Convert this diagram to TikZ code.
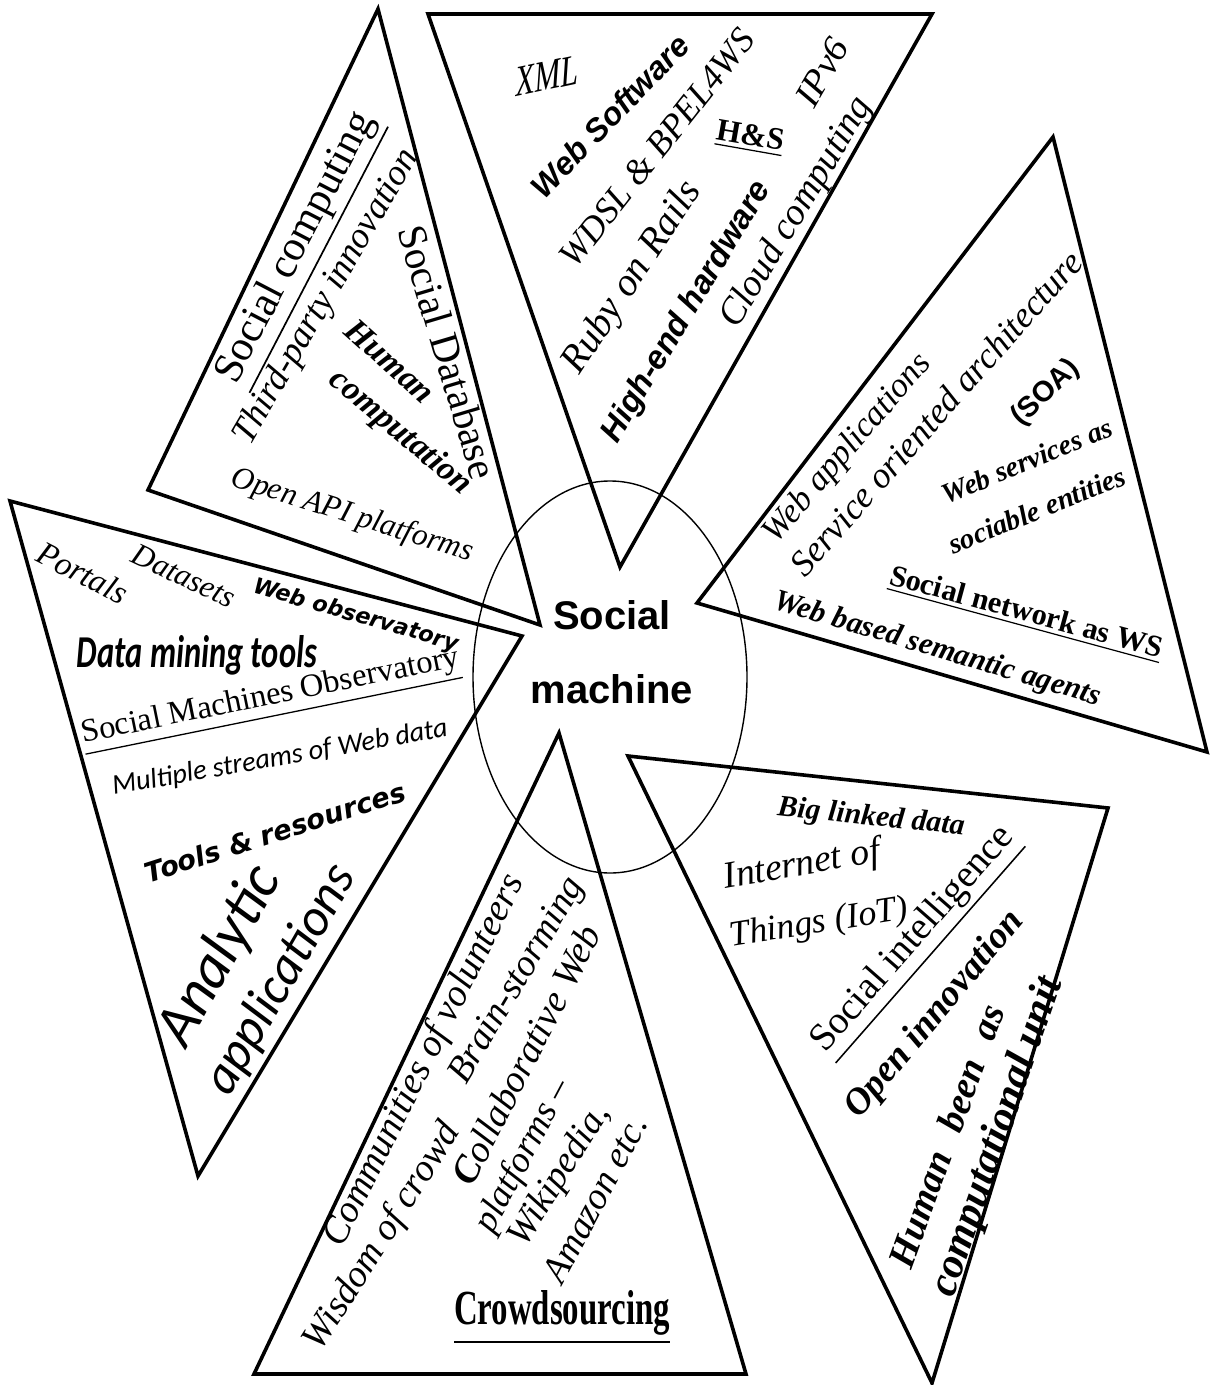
\documentclass[tikz,border=0pt]{standalone}
\usepackage{graphicx}
\usepackage{fontspec}
\usetikzlibrary{shapes.geometric}
\setmainfont{Liberation Serif}
\newfontfamily\arialf{Liberation Sans}
\newfontfamily\calf{Carlito}
\newfontfamily\verdbo{DejaVu Sans Bold Oblique}
\newlength\pxu \setlength\pxu{0.5pt}
\newcommand\fw[2]{\resizebox{#1\pxu}{!}{#2}}
\newcommand\fwh[3]{\resizebox{#1\pxu}{#2\pxu}{#3}}
\tikzset{
  tri/.style={line width=1.8pt, line join=miter},
  ell/.style={line width=0.7pt},
  lbl/.style={inner sep=0pt, outer sep=0pt},
}
\begin{document}
\begin{tikzpicture}[x=0.5pt,y=-0.5pt]
\useasboundingbox (0,0) rectangle (1213,1385);
% central ellipse
\node[draw, ell, ellipse, minimum width=274\pxu, minimum height=392\pxu, inner sep=0pt] (ring) at (610,677) {};
% vertices
\coordinate (a1) at (378,9);   \coordinate (b1) at (148,490);  \coordinate (c1) at (540,625);
\coordinate (a2) at (10,501);  \coordinate (b2) at (522,636);  \coordinate (c2) at (198,1176);
\coordinate (a3) at (428,14);  \coordinate (b3) at (932,14);   \coordinate (c3) at (620,567);
\coordinate (a4) at (1053,137);\coordinate (b4) at (1207,752); \coordinate (c4) at (697,603);
\coordinate (a5) at (628,756); \coordinate (b5) at (1108,808); \coordinate (c5) at (932,1383);
\coordinate (a6) at (559,733); \coordinate (b6) at (746,1374); \coordinate (c6) at (254,1374);
\foreach \i in {1,...,6}{\draw[tri] (a\i) -- (b\i) -- (c\i) -- cycle;}
% centre label
\node[lbl, align=center, font=\arialf\bfseries\fontsize{20}{37}\selectfont] (sm) at (612,652) {Social\\machine};
% T1 social computing
\node[lbl, rotate=62.5] (sc) at (300,250) {\fw{300}{\underline{Social computing}}};
\node[lbl, rotate=59.7] (tpi) at (327,297) {\fw{335}{\itshape Third-party innovation}};
\node[lbl, rotate=-73.4] (sdb) at (448,352) {\fw{262}{Social Database}};
\node[lbl, rotate=-42] (hum) at (390,361) {\fw{108}{\bfseries\itshape Human}};
\node[lbl, rotate=-40] (comp) at (400,433) {\fw{175}{\bfseries\itshape computation}};
\node[lbl, rotate=-17.5] (oap) at (352,516) {\fw{252}{\itshape Open API platforms}};
% T3 web software
\node[lbl, rotate=12, xslant=0.15] (xml) at (547,76) {\fwh{64}{28}{\itshape XML}};
\node[lbl, rotate=46] (ws) at (610,116) {\fw{212}{\arialf\bfseries\itshape Web Software}};
\node[lbl, rotate=51.7] (wdsl) at (657,148) {\fw{292}{\itshape WDSL \& BPEL4WS}};
\node[lbl, rotate=56.7] (ror) at (633,278) {\fw{222}{\itshape Ruby on Rails}};
\node[lbl, rotate=-10] (hs) at (750,138) {\fw{68}{\bfseries\underline{H\&S}}};
\node[lbl, rotate=59] (heh) at (687,312) {\fw{298}{\arialf\bfseries\itshape High-end hardware}};
\node[lbl, rotate=60] (ipv) at (822,72) {\fwh{72}{24}{\itshape IPv6}};
\node[lbl, rotate=58.9] (cc) at (797,213) {\fw{262}{\itshape Cloud computing}};
% T4 SOA
\node[lbl, rotate=49.3] (wa) at (848,449) {\fw{238}{\itshape Web applications}};
\node[lbl, rotate=48.4] (soat) at (936,413) {\fw{420}{\itshape Service oriented architecture}};
\node[lbl, rotate=43.6] (soa) at (1046,393) {\fw{82}{\arialf\bfseries (SOA)}};
\node[lbl, rotate=22.5] (wsa) at (1027,461) {\fw{182}{\bfseries\itshape Web services as}};
\node[lbl, rotate=22] (sen) at (1037,510) {\fw{188}{\bfseries\itshape sociable entities}};
\node[lbl, rotate=-15.2] (snws) at (1026,614) {\fw{282}{\bfseries\underline{Social network as WS}}};
\node[lbl, rotate=-16.6] (wbsa) at (937,650) {\fw{340}{\bfseries\itshape Web based semantic agents}};
% T2 observatory
\node[lbl, rotate=-27] (por) at (83,573) {\fw{98}{\itshape Portals}};
\node[lbl, rotate=-25] (dat) at (184,576) {\fw{110}{\itshape Datasets}};
\node[lbl, rotate=-16] (wo) at (356,616) {\fw{212}{\verdbo Web observatory}};
\node[lbl] (dmt) at (197,655) {\fwh{240}{32}{\calf\bfseries\itshape Data mining tools}};
\node[lbl, rotate=11.5] (smo) at (271,700) {\fw{385}{\underline{Social Machines Observatory}}};
\node[lbl, rotate=10] (msw) at (280,758) {\fw{340}{\calf\itshape Multiple streams of Web data}};
\node[lbl, rotate=17.8] (tr) at (275,832) {\fw{272}{\verdbo Tools \& resources}};
\node[lbl, rotate=60.7] (ana) at (220,956) {\fw{196}{\calf\itshape Analytic}};
\node[lbl, rotate=60] (app) at (281,980) {\fw{256}{\calf\itshape applications}};
% T6 crowdsourcing
\node[lbl, rotate=63.6] (cov) at (425,1061) {\fw{410}{\itshape Communities of volunteers}};
\node[lbl, rotate=57.7] (woc) at (383,1237) {\fw{262}{\itshape Wisdom of crowd}};
\node[lbl, rotate=59.4] (bst) at (518,981) {\fw{232}{\itshape Brain-storming}};
\node[lbl, rotate=63] (cweb) at (526,1055) {\fw{285}{\itshape{\bfseries C}ollaborative Web}};
\node[lbl, rotate=62] (plat) at (524,1156) {\fw{168}{\itshape platforms –}};
\node[lbl, rotate=58] (wiki) at (560,1176) {\fw{160}{\itshape Wikipedia,}};
\node[lbl, rotate=62] (amz) at (595,1199) {\fw{184}{\itshape Amazon etc.}};
\node[lbl] (crowd) at (562,1318) {\fwh{216}{34}{\bfseries\underline{Crowdsourcing}}};
% T5 social intelligence
\node[lbl, rotate=-6] (bld) at (871,818) {\fw{188}{\bfseries\itshape Big linked data}};
\node[lbl, rotate=10] (iot1) at (802,866) {\fw{158}{\itshape Internet of}};
\node[lbl, rotate=9] (iot2) at (819,924) {\fw{180}{\itshape Things (IoT)}};
\node[lbl, rotate=48.8] (soi) at (916,942) {\fw{288}{\underline{Social intelligence}}};
\node[lbl, rotate=50.3] (oin) at (935,1015) {\fw{258}{\bfseries\itshape Open innovation}};
\node[lbl, rotate=70] (hba) at (946,1136) {\fw{276}{\bfseries\itshape Human\hspace{0.6em}been\hspace{0.6em}as}};
\node[lbl, rotate=71] (cun) at (998,1137) {\fw{334}{\bfseries\itshape computational unit}};
\end{tikzpicture}
\end{document}
